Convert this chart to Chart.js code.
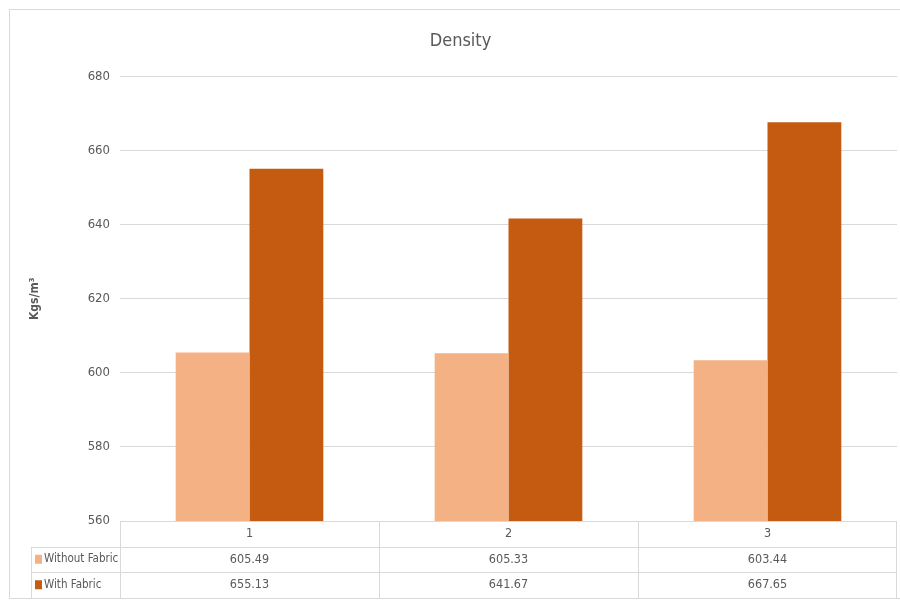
<!DOCTYPE html>
<html>
<head>
<meta charset="utf-8">
<script src="https://cdn.jsdelivr.net/npm/chart.js@4"></script>
<style>
  body { margin: 0; background: #fff; }
  #wrap { position: relative; width: 900px; height: 603px; }
  #frame { position: absolute; left: 9px; top: 9px; width: 900px; height: 590px; border: 1px solid #D9D9D9; box-sizing: border-box; }
  canvas { position: absolute; left: 0; top: 0; }
</style>
</head>
<body>
<div id="wrap">
  <div id="frame"></div>
  <canvas id="grafico" width="900" height="603"></canvas>
</div>
<script>
const categorias = ["1", "2", "3"];
const sinTela = [605.49, 605.33, 603.44];
const conTela = [655.13, 641.67, 667.65];
const etiquetasSerie = ["Without Fabric", "With Fabric"];
const coloresSerie = ["#F4B183", "#C55A11"];

const fuente = '"Liberation Sans Narrow", "DejaVu Sans Condensed", "Liberation Sans", sans-serif';
Chart.defaults.font.family = fuente;
Chart.defaults.color = "#595959";

// dibuja la tabla de datos debajo del gráfico usando la escala x
const tablaPlugin = {
    id: "tablaDatos",
    afterDraw(chart) {
        const ctx = chart.ctx;
        const area = chart.chartArea;
        const xs = chart.scales.x;
        const filaAlto = 25.5;
        const izqLeyenda = 31;
        const top = area.bottom;
        const mitad = (area.right - area.left) / categorias.length / 2;
        ctx.save();
        ctx.strokeStyle = "#D9D9D9";
        ctx.lineWidth = 1;
        // lineas horizontales
        ctx.beginPath();
        ctx.moveTo(area.left, top + 0.5); ctx.lineTo(area.right, top + 0.5);
        for (let f = 1; f <= 3; f++) {
            const y = Math.round(top + f * filaAlto) + 0.5;
            ctx.moveTo(izqLeyenda, y); ctx.lineTo(area.right, y);
        }
        // lineas verticales
        const yFin = Math.round(top + 3 * filaAlto) + 0.5;
        ctx.moveTo(izqLeyenda + 0.5, Math.round(top + filaAlto)); ctx.lineTo(izqLeyenda + 0.5, yFin);
        categorias.forEach((c, i) => {
            const x = Math.round(xs.getPixelForValue(i) - mitad) + 0.5;
            ctx.moveTo(x, top); ctx.lineTo(x, yFin);
        });
        const xr = Math.round(area.right) - 0.5;
        ctx.moveTo(xr, top); ctx.lineTo(xr, yFin);
        ctx.stroke();

        ctx.font = "12.5px " + fuente;
        ctx.fillStyle = "#595959";
        ctx.textAlign = "center";
        ctx.textBaseline = "middle";
        categorias.forEach((c, i) => {
            const x = xs.getPixelForValue(i);
            ctx.fillText(c, x, top + filaAlto / 2);
        });
        chart.data.datasets.forEach((ds, d) => {
            const yc = top + (d + 1.5) * filaAlto;
            ctx.font = "12.5px " + fuente;
            ds.data.forEach((v, i) => {
                ctx.fillStyle = "#595959";
                ctx.textAlign = "center";
                ctx.fillText(v.toFixed(2), xs.getPixelForValue(i), yc);
            });
            ctx.fillStyle = ds.backgroundColor;
            ctx.fillRect(izqLeyenda + 4, yc - 4.5, 7, 9);
            ctx.fillStyle = "#595959";
            ctx.textAlign = "left";
            ctx.font = "11.5px " + fuente;
            ctx.fillText(ds.label, izqLeyenda + 13, yc);
        });
        ctx.restore();
    }
};

const ctx = document.getElementById("grafico").getContext("2d");
new Chart(ctx, {
    type: "bar",
    data: {
        labels: categorias,
        datasets: [
            { label: etiquetasSerie[0], data: sinTela, backgroundColor: coloresSerie[0] },
            { label: etiquetasSerie[1], data: conTela, backgroundColor: coloresSerie[1] }
        ]
    },
    options: {
        responsive: false,
        animation: false,
        layout: { padding: { left: 24, right: 3, top: 0, bottom: 82 } },
        datasets: { bar: { categoryPercentage: 0.57, barPercentage: 1.0 } },
        plugins: {
            legend: { display: false },
            tooltip: { enabled: false },
            title: {
                display: true,
                text: "Density",
                color: "#595959",
                font: { size: 18, weight: "normal", family: fuente },
                padding: { top: 31, bottom: 24 }
            }
        },
        scales: {
            x: { display: false },
            y: {
                min: 560,
                max: 680,
                ticks: { stepSize: 20, color: "#595959", padding: 10, font: { size: 13 } },
                grid: { color: "#D9D9D9", drawTicks: false },
                border: { display: false },
                title: {
                    display: true,
                    text: "Kgs/m³",
                    color: "#595959",
                    font: { size: 12, weight: "bold" },
                    padding: { top: 4, bottom: 0 }
                },
                afterFit(scale) { scale.width = 96; }
            }
        }
    },
    plugins: [tablaPlugin]
});
</script>
</body>
</html>
